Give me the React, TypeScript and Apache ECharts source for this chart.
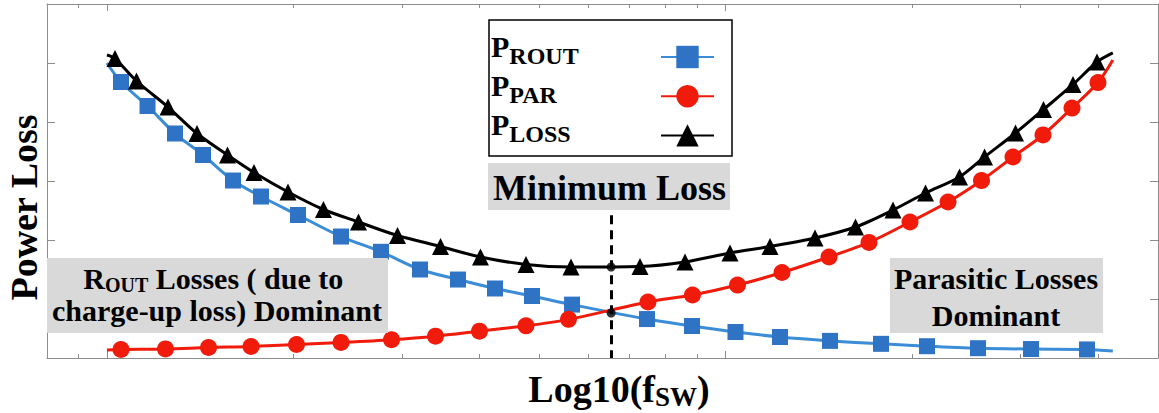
import React, { useEffect, useRef } from 'react';
import * as echarts from 'echarts';

const FONT = '"Liberation Serif", "Times New Roman", Times, serif';

// x axis is Log10(f_SW)
const X_MIN = -0.0969;
const X_MAX = 1.699;
const MINOR_TICK_VALUES = [0.9, 2, 3, 4, 5, 6, 7, 8, 9, 20, 30, 40];
const MAJOR_TICK_VALUES = [1, 10];
const Y_MIN = 0;
const Y_MAX = 6;
const Y_STEP = 1;

const CURVE_X_START = 0;
const CURVE_X_END = 1.626;

const ROUT_X = [0.0227, 0.0656, 0.110, 0.1553, 0.2038, 0.2490, 0.3088, 0.3783, 0.4430, 0.5060, 0.5675, 0.6273, 0.6871, 0.7518, 0.8730, 0.9457, 1.0160, 1.0880, 1.1688, 1.2512, 1.3256, 1.4080, 1.4937, 1.5842];
const ROUT_Y = [4.678, 4.271, 3.805, 3.441, 3.008, 2.737, 2.424, 2.059, 1.80, 1.50, 1.33, 1.178, 1.051, 0.905, 0.66, 0.542, 0.441, 0.356, 0.29, 0.24, 0.20, 0.166, 0.152, 0.145];
const ROUT_START = 5.0;
const ROUT_END = 0.12;

const PAR_X = [0.0227, 0.0946, 0.1642, 0.2329, 0.3064, 0.3783, 0.4600, 0.5311, 0.6022, 0.6774, 0.7461, 0.8746, 0.9465, 1.0193, 1.0912, 1.1672, 1.2318, 1.2981, 1.3596, 1.4137, 1.4646, 1.5131, 1.5600, 1.6020];
const PAR_Y = [0.144, 0.153, 0.178, 0.195, 0.229, 0.263, 0.31, 0.37, 0.455, 0.545, 0.655, 0.949, 1.068, 1.237, 1.449, 1.712, 1.958, 2.305, 2.644, 3.008, 3.407, 3.780, 4.237, 4.669];
const PAR_START = 0.136;
const PAR_END = 5.05;

const LOSS_X = [0.0130, 0.0478, 0.0987, 0.1456, 0.1949, 0.2377, 0.2927, 0.3500, 0.4066, 0.4697, 0.5392, 0.6038, 0.6774, 0.7501, 0.8617, 0.9344, 1.0072, 1.0718, 1.1446, 1.2100, 1.2706, 1.3232, 1.3781, 1.4186, 1.4687, 1.5139, 1.5616, 1.6004];
const LOSS_Y = [5.076, 4.695, 4.254, 3.805, 3.441, 3.144, 2.814, 2.517, 2.305, 2.076, 1.890, 1.712, 1.585, 1.542, 1.551, 1.627, 1.780, 1.890, 2.034, 2.220, 2.508, 2.797, 3.068, 3.407, 3.814, 4.212, 4.636, 5.017];
const LOSS_START = 5.136;
const LOSS_END = 5.17;

const MIN_X = 0.815;
const MIN_LOSS = 1.542;
const CROSS_Y = 0.763;
const DASH_TOP = 2.42;

const SERIES_NAMES = ['PROUT', 'PPAR', 'PLOSS'];
const LEGEND_MAIN = ['P', 'P', 'P'];
const LEGEND_SUB = ['ROUT', 'PAR', 'LOSS'];

const GRAY = '#8c8c8c';
const BLUE = '#2f73c5';
const BLUE_LINE = '#3a8dd6';
const RED = '#f01b0b';
const BLACK = '#000000';

function curve(xs: number[], ys: number[], start: number, end: number) {
  return [
    { value: [CURVE_X_START, start], symbol: 'none' },
    ...xs.map((x, i) => [x, ys[i]]),
    { value: [CURVE_X_END, end], symbol: 'none' },
  ];
}

const tok = (fontSize: number, lineHeight: number, padTop = 0) => ({
  fontSize,
  lineHeight,
  fontFamily: FONT,
  fontWeight: 'bold',
  color: '#000',
  verticalAlign: 'top',
  align: 'left',
  padding: [padTop, 0, 0, 0],
});

export default function App() {
  const ref = useRef<HTMLDivElement>(null);

  useEffect(() => {
    if (!ref.current) return;
    const chart = echarts.init(ref.current, undefined, { renderer: 'svg' });

    const xBase = {
      type: 'value',
      min: X_MIN,
      max: X_MAX,
      axisLabel: { show: false },
      splitLine: { show: false },
    };
    const tickLine = { color: GRAY, width: 1 };
    const minorTicks = MINOR_TICK_VALUES.map((v) => Math.log10(v));
    const majorTicks = MAJOR_TICK_VALUES.map((v) => Math.log10(v));

    const yBase = {
      type: 'value',
      min: Y_MIN,
      max: Y_MAX,
      interval: Y_STEP,
      axisLine: { show: true, onZero: false, lineStyle: { color: GRAY, width: 1 } },
      axisTick: { show: true, inside: true, length: 8, lineStyle: tickLine },
      axisLabel: { show: false },
      splitLine: { show: false },
    };

    const boxText = (fs: number) => ({ fontFamily: FONT, fontWeight: 'bold', fontSize: fs, fill: '#000' });

    const option: any = {
      animation: false,
      backgroundColor: '#ffffff',
      textStyle: { fontFamily: FONT, fontWeight: 'bold', color: '#000' },
      grid: { left: 47, right: 1, top: 4, bottom: 55, outerBoundsMode: 'none', containLabel: false },
      xAxis: [
        {
          ...xBase,
          position: 'bottom',
          axisLine: { show: true, onZero: false, lineStyle: { color: GRAY, width: 1 } },
          axisTick: { show: true, inside: true, length: 4, customValues: minorTicks, lineStyle: tickLine },
          name: '{a|Log10(f}{s|SW}{a|)}',
          nameLocation: 'middle',
          nameGap: 12,
          nameTextStyle: {
            padding: [0, 0, 0, 33],
            rich: { a: tok(38, 38), s: tok(27, 38, 13) },
          },
        },
        {
          ...xBase,
          position: 'bottom',
          axisLine: { show: false, onZero: false },
          axisTick: { show: true, inside: true, length: 7, customValues: majorTicks, lineStyle: tickLine },
        },
        {
          ...xBase,
          position: 'top',
          axisLine: { show: true, onZero: false, lineStyle: { color: GRAY, width: 1 } },
          axisTick: { show: true, inside: true, length: 4, customValues: minorTicks, lineStyle: tickLine },
        },
        {
          ...xBase,
          position: 'top',
          axisLine: { show: false, onZero: false },
          axisTick: { show: true, inside: true, length: 7, customValues: majorTicks, lineStyle: tickLine },
        },
      ],
      yAxis: [
        {
          ...yBase,
          position: 'left',
          name: 'Power Loss',
          nameLocation: 'middle',
          nameGap: 4,
          nameTextStyle: {
            fontFamily: FONT,
            fontWeight: 'bold',
            fontSize: 38,
            lineHeight: 38,
            color: '#000',
            padding: [0, 53, 0, 0],
          },
        },
        { ...yBase, position: 'right' },
      ],
      legend: {
        data: SERIES_NAMES,
        orient: 'vertical',
        left: 491,
        top: 31,
        padding: 0,
        align: 'right',
        itemWidth: 53,
        itemHeight: 28,
        itemGap: 2,
        selectedMode: false,
        lineStyle: { width: 2 },
        formatter: (name: string) => {
          const i = SERIES_NAMES.indexOf(name);
          return `{p|${LEGEND_MAIN[i]}}{s|${LEGEND_SUB[i]}}`;
        },
        textStyle: {
          width: 165,
          padding: [0, 0, 22, 0],
          rich: { p: tok(30, 30), s: tok(24, 30, 13) },
        },
      },
      graphic: [
        {
          type: 'rect',
          shape: { x: 489, y: 20, width: 243, height: 136 },
          style: { fill: 'none', stroke: '#000', lineWidth: 1.5 },
          z: 10,
        },
        {
          type: 'text',
          x: 609,
          y: 163,
          z: 10,
          style: {
            text: '{m|Minimum Loss}',
            rich: { m: tok(36, 36) },
            ...boxText(36),
            backgroundColor: '#d9d9d9',
            padding: [7, 4, 4, 5],
            align: 'center',
            verticalAlign: 'top',
          },
        },
        {
          type: 'text',
          x: 217.5,
          y: 258,
          z: 10,
          style: {
            text: '{b|R}{s|OUT}{b| Losses ( due to }\n{c|charge-up loss) Dominant}',
            rich: {
              b: { ...tok(30, 30), align: 'center' },
              s: { ...tok(20, 30, 12), align: 'center' },
              c: { ...tok(30, 32, 2), align: 'center' },
            },
            ...boxText(30),
            backgroundColor: '#d9d9d9',
            padding: [5, 6, 8, 5],
            align: 'center',
            verticalAlign: 'top',
          },
        },
        {
          type: 'text',
          x: 996.5,
          y: 258,
          z: 10,
          style: {
            text: '{p|Parasitic Losses}\n{d|Dominant}',
            rich: { p: { ...tok(30, 30), align: 'center' }, d: { ...tok(30, 37, 7), align: 'center' } },
            ...boxText(30),
            backgroundColor: '#d9d9d9',
            padding: [5, 5, 3, 4],
            align: 'center',
            verticalAlign: 'top',
          },
        },
      ],
      series: [
        {
          name: SERIES_NAMES[0],
          type: 'line',
          xAxisIndex: 0,
          yAxisIndex: 0,
          data: curve(ROUT_X, ROUT_Y, ROUT_START, ROUT_END),
          smooth: 0.3,
          symbol: 'rect',
          symbolSize: 16,
          itemStyle: { color: BLUE },
          lineStyle: { color: BLUE_LINE, width: 3 },
          z: 2,
        },
        {
          name: SERIES_NAMES[1],
          type: 'line',
          xAxisIndex: 0,
          yAxisIndex: 0,
          data: curve(PAR_X, PAR_Y, PAR_START, PAR_END),
          smooth: 0.3,
          symbol: 'circle',
          symbolSize: 17,
          itemStyle: { color: RED },
          lineStyle: { color: RED, width: 3 },
          z: 3,
        },
        {
          name: SERIES_NAMES[2],
          type: 'line',
          xAxisIndex: 0,
          yAxisIndex: 0,
          data: curve(LOSS_X, LOSS_Y, LOSS_START, LOSS_END),
          smooth: 0.3,
          symbol: 'triangle',
          symbolSize: 17,
          itemStyle: { color: BLACK },
          lineStyle: { color: BLACK, width: 3 },
          z: 4,
        },
        {
          name: 'minimum',
          type: 'scatter',
          xAxisIndex: 0,
          yAxisIndex: 0,
          data: [
            [MIN_X, MIN_LOSS],
            [MIN_X, CROSS_Y],
          ],
          symbol: 'circle',
          symbolSize: 9,
          itemStyle: { color: BLACK },
          z: 6,
          markLine: {
            silent: true,
            symbol: ['none', 'none'],
            label: { show: false },
            lineStyle: { color: BLACK, width: 3, type: [9, 6] },
            data: [[{ coord: [MIN_X, DASH_TOP] }, { coord: [MIN_X, Y_MIN] }]],
          },
        },
      ],
    };

    chart.setOption(option);
    return () => chart.dispose();
  }, []);

  return (
    <div
      ref={ref}
      style={{ position: 'fixed', left: 0, top: 0, width: 1159, height: 413, background: '#fff' }}
    />
  );
}
